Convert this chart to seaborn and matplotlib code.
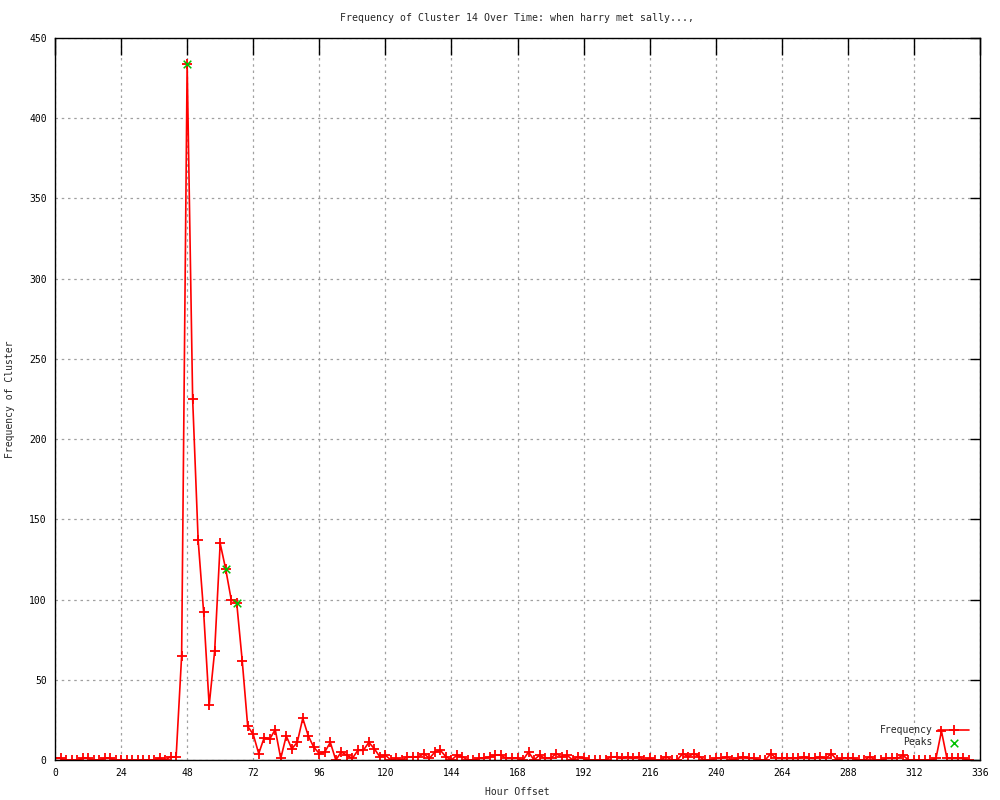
import matplotlib
matplotlib.use("Agg")
import matplotlib.pyplot as plt
import seaborn as sns
import pandas as pd

# hour offsets, one reading every 2 hours
hours = list(range(0, 333, 2))
frequency = [
    1, 1, 0, 0, 0, 1, 1, 0, 0, 1,        # 0-18
    1, 0, 0, 0, 0, 0, 0, 0, 0, 1,        # 20-38
    0, 2, 2, 65, 434, 225, 137, 92, 34, 68,   # 40-58
    135, 119, 100, 98, 62, 21, 16, 4, 14, 13,  # 60-78
    19, 1, 15, 7, 11, 26, 15, 8, 4, 5,   # 80-98
    11, 0, 5, 3, 1, 6, 6, 11, 7, 2,      # 100-118
    3, 0, 1, 0, 2, 2, 2, 4, 1, 5,        # 120-138
    6, 2, 0, 3, 2, 0, 0, 1, 1, 2,        # 140-158
    3, 3, 1, 1, 1, 0, 5, 0, 3, 1,        # 160-178
    1, 4, 2, 3, 0, 2, 1, 0, 0, 0,        # 180-198
    0, 2, 2, 1, 2, 1, 2, 0, 1, 0,        # 200-218
    0, 2, 0, 0, 4, 2, 4, 2, 0, 0,        # 220-238
    1, 1, 2, 0, 1, 2, 1, 1, 0, 0,        # 240-258
    4, 1, 1, 1, 1, 1, 2, 1, 1, 2,        # 260-278
    1, 4, 0, 1, 1, 1, 0, 0, 2, 0,        # 280-298
    0, 1, 1, 1, 3, 0, 0, 0, 0, 0,        # 300-318
    1, 18, 1, 1, 1, 1, 0,                # 320-332
]

peak_hours = [48, 62, 66]
peak_values = [434, 119, 98]

freq_df = pd.DataFrame({"Hour": hours, "Frequency": frequency})
peak_df = pd.DataFrame({"Hour": peak_hours, "Frequency": peak_values})

sns.set_style("white")
plt.rcParams["font.family"] = ["DejaVu Sans Mono", "DejaVu Sans"]
plt.rcParams["font.size"] = 7

fig = plt.figure(figsize=(10, 8), dpi=100)
ax = fig.add_axes([0.055, 0.05, 0.925, 0.9025])

sns.lineplot(
    data=freq_df, x="Hour", y="Frequency", ax=ax,
    color="#ff0000", linewidth=1.2, marker="+", markersize=6.5,
    markeredgewidth=1.3, markeredgecolor="#ff0000", label="Frequency",
)
sns.scatterplot(
    data=peak_df, x="Hour", y="Frequency", ax=ax,
    color="#00c000", marker="x", s=30, linewidth=1.1, label="Peaks", zorder=5,
)

ax.set_xlim(0, 336)
ax.set_ylim(0, 450)
ax.set_xticks(range(0, 337, 24))
ax.set_yticks(range(0, 451, 50))
ax.grid(True, color="#a0a0a0", linestyle=(0, (2, 3)), linewidth=0.9)
ax.set_axisbelow(True)

for side in ax.spines.values():
    side.set_color("black")
    side.set_linewidth(1.0)

ax.tick_params(axis="x", direction="in", length=12, width=1.0, top=True,
               colors="black", pad=6, labelsize=7)
ax.tick_params(axis="y", direction="in", length=7, width=1.0, right=True,
               colors="black", pad=6, labelsize=7)

ax.set_title("Frequency of Cluster 14 Over Time: when harry met sally...,",
             fontsize=7.1, pad=12)
ax.set_xlabel("Hour Offset", fontsize=7, labelpad=6)
ax.set_ylabel("Frequency of Cluster", fontsize=7, labelpad=10)

ax.legend(loc="lower right", bbox_to_anchor=(0.996, 0.008), frameon=False,
          markerfirst=False, fontsize=7, handlelength=3.2, labelspacing=0.2,
          borderpad=0.2, handletextpad=0.6)

plt.savefig("out.png", dpi=100)
plt.close()
